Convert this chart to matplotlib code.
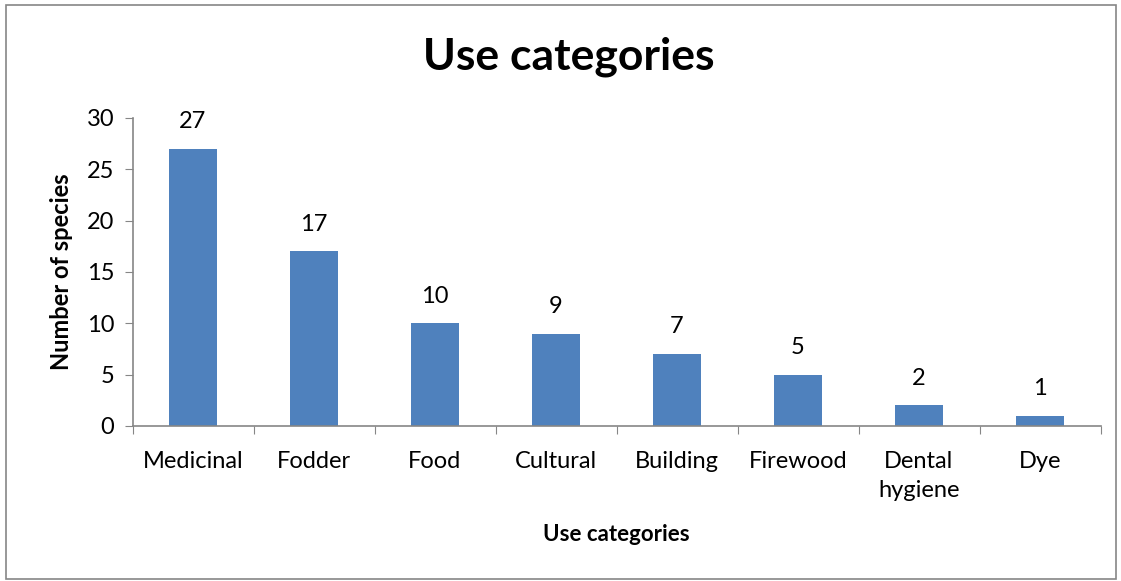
# Bar chart of species counts per use category (Excel-style).
import matplotlib.pyplot as plt
from matplotlib.patches import Rectangle
import numpy as np

categories = ["Medicinal", "Fodder", "Food", "Cultural", "Building",
              "Firewood", "Dental\nhygiene", "Dye"]
species = [27, 17, 10, 9, 7, 5, 2, 1]

plt.rcParams['font.family'] = ['Lato', 'DejaVu Sans']

W, H = 1121, 581
fig = plt.figure(figsize=(W / 100, H / 100), dpi=100)
ax = fig.add_axes([132.5 / W, 1 - 426 / H, (1100.5 - 132.5) / W, (426 - 118) / H])

x = np.arange(len(categories))
bars = ax.bar(x, species, width=0.4, color="#4F81BD")

# value labels above each bar
for xi, v in zip(x, species):
    ax.annotate(str(v), (xi, v), xytext=(0, 12), textcoords="offset points",
                ha="center", va="bottom", fontsize=17)

ax.set_xlim(-0.5, len(categories) - 0.5)
ax.set_ylim(0, 30)
ax.set_yticks(range(0, 31, 5))
ax.tick_params(axis="y", labelsize=17, direction="out", length=6,
               color="#868686", pad=7)

# ticks sit between categories, labels in the middle
ax.set_xticks(np.arange(-0.5, len(categories), 1))
ax.set_xticklabels([])
ax.set_xticks(x, minor=True)
ax.set_xticklabels(categories, minor=True, fontsize=17, linespacing=1.45)
ax.tick_params(axis="x", which="major", direction="out", length=6, color="#868686")
ax.tick_params(axis="x", which="minor", length=0, pad=18)

for s in ["top", "right"]:
    ax.spines[s].set_visible(False)
for s in ["left", "bottom"]:
    ax.spines[s].set_color("#868686")
    ax.spines[s].set_linewidth(1.2)

ax.set_xlabel("Use categories", fontsize=16, fontweight="bold", labelpad=17)
ax.set_ylabel("Number of species", fontsize=17, fontweight="bold", labelpad=10)
fig.text(0.5075, 1 - 57 / H, "Use categories", ha="center", va="center",
         fontsize=32, fontweight="bold")

# outer chart border
fig.add_artist(Rectangle((6 / W, 1 - 579 / H), (1116 - 6) / W, (579 - 5) / H,
                         transform=fig.transFigure, fill=False,
                         edgecolor="#868686", linewidth=1.2))

plt.savefig("out.png", dpi=100)
